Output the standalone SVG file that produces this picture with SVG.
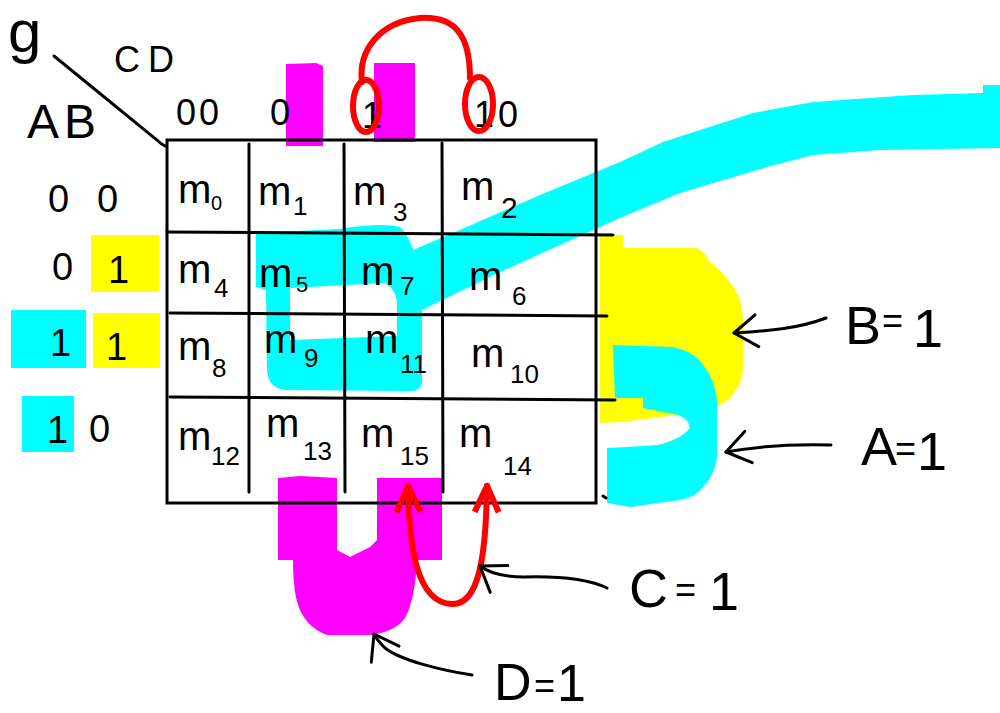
<svg xmlns="http://www.w3.org/2000/svg" width="1000" height="713" viewBox="0 0 1000 713">
<style>
.t{font-family:"Liberation Sans",Arial,sans-serif;fill:#000}
.m{font-size:40px}
.s{font-size:26px}
.h{font-size:36px}
.big{font-size:54px}
.eq{font-size:36px}
.grid{stroke:#000;stroke-width:3;fill:none;stroke-linecap:round}
.cy{fill:#00ffff}
.ye{fill:#ffff00}
.mg{fill:#ff00ff}
.red{stroke:#ff0000;stroke-width:6;fill:none;stroke-linecap:round;stroke-linejoin:round}
.arr{stroke:#000;stroke-width:3;fill:none;stroke-linecap:round}
</style>
<defs>
<marker id="ah" markerUnits="userSpaceOnUse" viewBox="-30 -22 36 44" markerWidth="36" markerHeight="44" refX="0" refY="0" orient="auto">
<path d="M-24,-15 L0,0 L-22,17" fill="none" stroke="#000" stroke-width="3" stroke-linecap="round" stroke-linejoin="round"/>
</marker>
<marker id="rh" markerUnits="userSpaceOnUse" viewBox="-32 -20 38 40" markerWidth="38" markerHeight="40" refX="0" refY="0" orient="auto-start-reverse">
<path d="M-26,-12 L0,0 L-26,12" fill="none" stroke="#ff0000" stroke-width="6" stroke-linejoin="round"/>
</marker>
</defs>
<rect width="1000" height="713" fill="#fff"/>

<g id="highlights">
<path class="cy" d="M413,250 L453,233 L540,195 L620,162 L663,142 L700,130 L753,113 L813,102 L913,95 L983,93 L983,85 L1000,85 L1000,148 L880,150 L813,155 L767,167 L680,193 L620,218 L580,236 L500,272 L422,310 Z"/>
<path class="cy" fill-rule="evenodd" d="M256,233 L340,229 Q380,222 400,227 Q410,238 414,252 L422,300 L422,383 Q421,391 410,391 L285,390 Q268,388 267,370 L266,290 L256,287 Z M290,288 L385,283 Q397,290 397,305 L397,336 L290,340 Z"/>
<path class="ye" d="M600,235 L623,235 L623,248 L697,248 Q705,252 710,262 Q730,278 738,295 Q744,310 743,330 L743,372 Q740,390 725,402 Q712,410 700,412 L677,415 L623,422 L600,423 Z"/>
<path class="cy" d="M613,345 L673,347 Q695,352 703,365 Q715,380 717,400 L717,458 Q714,475 705,485 Q695,498 680,500 L630,507 L607,503 L607,448 L627,447 L657,445 Q680,440 690,428 Q688,418 678,415 L643,408 L643,398 L615,398 Z"/>
<path class="mg" d="M286,64 L316,63 L323,66 L323,146 L286,146 Z"/>
<path class="mg" d="M374,63 L415,63 L415,142 L374,142 Z"/>
<path class="mg" d="M278,478 L300,476 L337,478 L337,550 L350,557 L370,547 L377,540 L377,478 L442,478 L442,560 L417,560 Q415,600 405,618 Q395,632 370,635 L327,635 Q308,628 300,610 Q293,595 293,560 L278,560 Z"/>
<rect class="cy" x="11" y="310" width="75" height="58"/>
<rect class="cy" x="22" y="396" width="52" height="56"/>
<rect class="ye" x="91" y="235" width="68" height="57"/>
<rect class="ye" x="93" y="313" width="67" height="55"/>
</g>

<g id="grid">
<path class="grid" d="M54,56 L157,140 Q161,144 165,146"/>
<rect class="grid" x="167" y="140" width="429" height="363" fill="none"/>
<path class="grid" d="M249,144 L249,492 M344,144 L345,492 M442,143 L443,492"/>
<path class="grid" d="M167,232 Q400,233 613,235 M170,313 Q400,314 607,316 M170,397 Q400,398 615,400"/>
<path class="grid" d="M603,496 L606,498"/>
</g>

<g id="axis-labels">
<text class="t" style="font-size:60px" x="8" y="52">g</text>
<text class="t h" x="114 148" y="72">CD</text>
<text class="t" style="font-size:48px" x="27 64" y="138">AB</text>
</g>

<g id="col-headers">
<text class="t h" x="176 199" y="125">00</text>
<text class="t h" x="270" y="125">0</text>
<text class="t h" x="362" y="128">1</text>
<text class="t h" x="474 498" y="127">10</text>
</g>

<g id="row-headers">
<text class="t" style="font-size:38px" x="48 97" y="212">00</text>
<text class="t" style="font-size:38px" x="52" y="280">0</text>
<text class="t" style="font-size:38px" x="108" y="283">1</text>
<text class="t" style="font-size:38px" x="50" y="356">1</text>
<text class="t" style="font-size:38px" x="106" y="360">1</text>
<text class="t" style="font-size:38px" x="47" y="443">1</text>
<text class="t" style="font-size:38px" x="89" y="442">0</text>
</g>

<g id="cell-m0"><text class="t m" x="178" y="203">m<tspan class="s" style="font-size:20px" x="211" y="210">0</tspan></text></g>
<g id="cell-m1"><text class="t m" x="258" y="205">m<tspan class="s" x="293" y="215">1</tspan></text></g>
<g id="cell-m3"><text class="t m" x="353" y="205">m<tspan class="s" x="393" y="221">3</tspan></text></g>
<g id="cell-m2"><text class="t m" x="461" y="200">m<tspan class="s" style="font-size:30px" x="501" y="218">2</tspan></text></g>
<g id="cell-m4"><text class="t m" x="178" y="283">m<tspan class="s" x="214" y="297">4</tspan></text></g>
<g id="cell-m5"><text class="t m" x="259" y="287">m<tspan class="s" style="font-size:22px" x="296" y="292">5</tspan></text></g>
<g id="cell-m7"><text class="t m" x="361" y="285">m<tspan class="s" x="400" y="295">7</tspan></text></g>
<g id="cell-m6"><text class="t m" x="469" y="290">m<tspan class="s" x="512" y="305">6</tspan></text></g>
<g id="cell-m8"><text class="t m" x="178" y="360">m<tspan class="s" x="212" y="377">8</tspan></text></g>
<g id="cell-m9"><text class="t m" x="264" y="353">m<tspan class="s" x="304" y="367">9</tspan></text></g>
<g id="cell-m11"><text class="t m" x="365" y="353">m<tspan class="s" x="400" y="373">11</tspan></text></g>
<g id="cell-m10"><text class="t m" x="471" y="367">m<tspan class="s" x="510" y="383">10</tspan></text></g>
<g id="cell-m12"><text class="t m" x="178" y="450">m<tspan class="s" x="211" y="465">12</tspan></text></g>
<g id="cell-m13"><text class="t m" x="266" y="437">m<tspan class="s" x="303" y="460">13</tspan></text></g>
<g id="cell-m15"><text class="t m" x="361" y="447">m<tspan class="s" x="400" y="465">15</tspan></text></g>
<g id="cell-m14"><text class="t m" x="459" y="447">m<tspan class="s" x="503" y="475">14</tspan></text></g>

<g id="red-marks">
<path class="red" d="M362,82 C358,50 380,22 420,18 C455,16 470,35 470,78"/>
<ellipse class="red" cx="366" cy="106" rx="13" ry="26"/>
<ellipse class="red" cx="479" cy="104" rx="14" ry="27"/>
<path class="red" marker-start="url(#rh)" marker-end="url(#rh)" d="M408,486 C409,545 416,603 452,604 C478,605 486,560 487,486"/>
</g>

<g id="connectors">
<path class="arr" marker-end="url(#ah)" d="M826,318 C800,328 770,331 734,333"/>
<path class="arr" marker-end="url(#ah)" d="M831,445 C800,444 760,446 726,452"/>
<path class="arr" marker-end="url(#ah)" d="M607,588 C590,580 560,576 524,577 C500,577 488,572 480,566"/>
<path class="arr" marker-end="url(#ah)" d="M472,675 C440,670 400,660 385,648 C379,642 376,638 374,634"/>
</g>

<g id="label-B"><text class="t big" x="845" y="344">B<tspan class="eq" x="882" y="333">=</tspan><tspan x="913" y="347">1</tspan></text></g>
<g id="label-A"><text class="t big" x="861" y="465">A<tspan class="eq" x="895" y="461">=</tspan><tspan x="917" y="470">1</tspan></text></g>
<g id="label-C"><text class="t big" x="629" y="607">C<tspan class="eq" x="675" y="602">=</tspan><tspan x="709" y="610">1</tspan></text></g>
<g id="label-D"><text class="t" style="font-size:52px" x="494" y="700">D<tspan class="eq" x="534" y="698">=</tspan><tspan x="557" y="701">1</tspan></text></g>
</svg>
